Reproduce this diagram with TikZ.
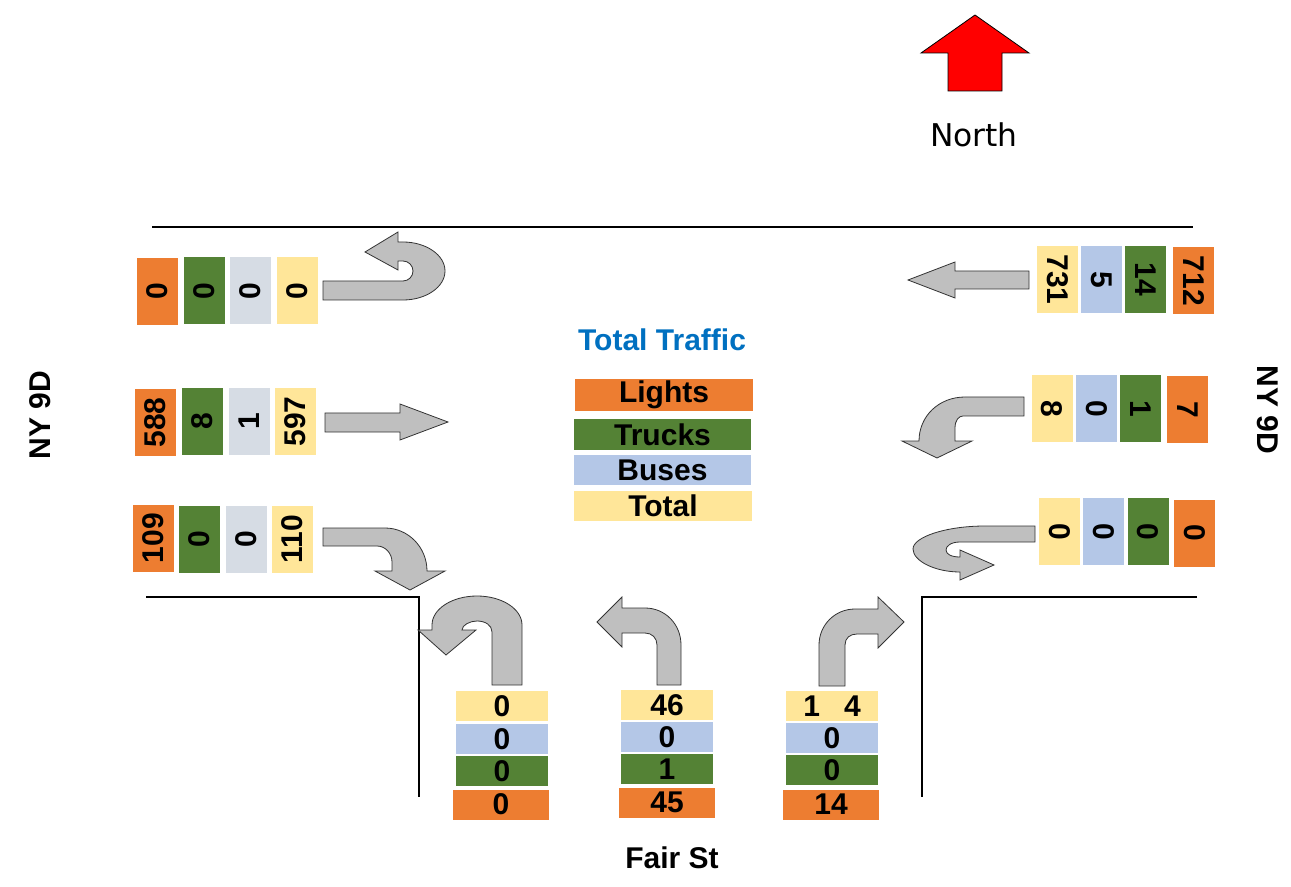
\documentclass[tikz,border=0pt]{standalone}
\usepackage{fontspec}
\setmainfont{Liberation Sans}
\newfontfamily\northfont{DejaVu Sans}
\usepackage{tikz}
\definecolor{lightsC}{HTML}{ED7D31}
\definecolor{trucksC}{HTML}{548235}
\definecolor{busesC}{HTML}{B4C7E7}
\definecolor{busesW}{HTML}{D6DCE4}
\definecolor{totalC}{HTML}{FFE699}
\definecolor{arrowC}{HTML}{BFBFBF}
\definecolor{titleC}{HTML}{0070C0}
\tikzset{
cell/.style = {inner sep=0pt, align=center, font=\fontsize{22.5}{26}\selectfont\bfseries},
cell_v/.style = {cell, minimum width=50.25pt, minimum height=30.75pt},% rotated count box
cell_h/.style = {cell, minimum width=69pt, minimum height=22.5pt},% approach count box
cell_l/.style = {cell, minimum width=133pt, minimum height=23pt},% legend box
turn/.style = {fill=arrowC, draw=black!80, line width=0.6pt, line join=miter},% grey block arrow
road/.style = {draw=black, line width=1.5pt},
lbl/.style = {font=\fontsize{22.5}{26}\selectfont\bfseries}
}
\begin{document}
\begin{tikzpicture}[x=0.75pt, y=-0.75pt]
\useasboundingbox (0,0) rectangle (1291,887);

% north arrow
\draw[fill=red, draw=black, line width=0.6pt] (975,15) -- (1029,53) -- (1002,53) -- (1002,91) -- (948,91) -- (948,53) -- (921,53) -- cycle;
\node[font=\northfont\fontsize{23.5}{27}\selectfont] (north) at (974,135) {North};

% roads
\draw[road] (152,227) -- (1193,227);
\draw[road] (146,597) -- (419,597) -- (419,797);
\draw[road] (1197,597) -- (922,597) -- (922,797);

% street names
\node[lbl, rotate=90] (ny_w) at (40,415) {NY 9D};
\node[lbl, rotate=-90] (ny_e) at (1268,410) {NY 9D};
\node[lbl] (fair) at (672,858) {Fair St};

% legend
\node[lbl, text=titleC] (title) at (662,340) {Total Traffic};
\node[cell_l, fill=lightsC, minimum height=24pt] (lg_l) at (664,395) {Lights};
\node[cell_l, fill=trucksC] (lg_t) at (662.5,434.5) {Trucks};
\node[cell_l, fill=busesC, minimum height=22.5pt] (lg_b) at (662.5,470) {Buses};
\node[cell_l, fill=totalC, minimum height=22.5pt] (lg_s) at (663,506) {Total};

% west approach
\node[cell_v, rotate=90, fill=lightsC] (w1l) at (157.5,291.5) {0};
\node[cell_v, rotate=90, fill=trucksC] (w1t) at (204.5,291) {0};
\node[cell_v, rotate=90, fill=busesW] (w1b) at (250.5,291) {0};
\node[cell_v, rotate=90, fill=totalC] (w1s) at (297,291) {0};
\node[cell_v, rotate=90, fill=lightsC] (w2l) at (155.5,422.5) {588};
\node[cell_v, rotate=90, fill=trucksC] (w2t) at (202.5,421.5) {8};
\node[cell_v, rotate=90, fill=busesW] (w2b) at (249.5,421.5) {1};
\node[cell_v, rotate=90, fill=totalC] (w2s) at (295,421.5) {597};
\node[cell_v, rotate=90, fill=lightsC] (w3l) at (153.5,538) {109};
\node[cell_v, rotate=90, fill=trucksC] (w3t) at (199.5,539) {0};
\node[cell_v, rotate=90, fill=busesW] (w3b) at (246.5,539) {0};
\node[cell_v, rotate=90, fill=totalC] (w3s) at (292.5,539) {110};

\draw[turn] (323,281) -- (403,281) .. controls (408.5,281) and (413,276.5) .. (413,271)
  .. controls (413,265.5) and (408.5,261) .. (403,261) -- (398,261) -- (398,270) -- (365,252)
  -- (398,232) -- (398,242) -- (403,242) .. controls (426,242) and (445,255) .. (445,271)
  .. controls (445,287) and (426,300) .. (403,300) -- (323,300) -- cycle;
\draw[turn] (325,413) -- (400,413) -- (400,404) -- (448,422) -- (400,440) -- (400,432) -- (325,432) -- cycle;
\draw[turn] (323,528) -- (385,528) .. controls (408,528) and (427,547) .. (427,571) -- (445,571)
  -- (410,590) -- (375,571) -- (392,571) -- (392,562) .. controls (392,553) and (385,546) .. (377,546)
  -- (323,546) -- cycle;

% east approach
\node[cell_v, rotate=-90, fill=totalC] (e1s) at (1057.5,279.5) {731};
\node[cell_v, rotate=-90, fill=busesC] (e1b) at (1101.5,279.5) {5};
\node[cell_v, rotate=-90, fill=trucksC] (e1t) at (1145.5,279.5) {14};
\node[cell_v, rotate=-90, fill=lightsC] (e1l) at (1193.5,281) {712};
\node[cell_v, rotate=-90, fill=totalC] (e2s) at (1052,408.5) {8};
\node[cell_v, rotate=-90, fill=busesC] (e2b) at (1096.5,408.5) {0};
\node[cell_v, rotate=-90, fill=trucksC] (e2t) at (1140.5,408.5) {1};
\node[cell_v, rotate=-90, fill=lightsC] (e2l) at (1187.5,409.5) {7};
\node[cell_v, rotate=-90, fill=totalC] (e3s) at (1059.5,531.5) {0};
\node[cell_v, rotate=-90, fill=busesC] (e3b) at (1103.5,531.5) {0};
\node[cell_v, rotate=-90, fill=trucksC] (e3t) at (1148,531.5) {0};
\node[cell_v, rotate=-90, fill=lightsC] (e3l) at (1194.5,533) {0};

\draw[turn] (1029,271) -- (955,271) -- (955,262) -- (908,280) -- (955,298) -- (955,289) -- (1029,289) -- cycle;
\draw[turn] (1024,397) -- (965,397) .. controls (939,397) and (919,416) .. (919,441) -- (902,441)
  -- (937,458) -- (972,441) -- (955,441) -- (955,428) .. controls (955,420) and (959,416) .. (963,416)
  -- (1024,416) -- cycle;
\draw[turn] (1035,526) -- (985,526) .. controls (946,526) and (913,537) .. (913,549)
  .. controls (913,561) and (935,572) .. (960,572) -- (960,580) -- (994,565) -- (960,550) -- (960,557)
  .. controls (951,557) and (946,554) .. (946,550) .. controls (946,546) and (951,542) .. (960,542)
  -- (1035,542) -- cycle;

% south approach
\node[cell_h, fill=totalC] (s1s) at (502,706) {0};
\node[cell_h, fill=busesC] (s1b) at (502,739) {0};
\node[cell_h, fill=trucksC] (s1t) at (502,771) {0};
\node[cell_h, fill=lightsC, minimum width=72pt] (s1l) at (501,804.5) {0};
\node[cell_h, fill=totalC] (s2s) at (667,705) {46};
\node[cell_h, fill=busesC] (s2b) at (667,737) {0};
\node[cell_h, fill=trucksC] (s2t) at (667,769) {1};
\node[cell_h, fill=lightsC, minimum width=72pt] (s2l) at (667,802.5) {45};
\node[cell_h, fill=totalC] (s3s) at (832,706) {1\hspace{0.8em}4};
\node[cell_h, fill=busesC] (s3b) at (832,738) {0};
\node[cell_h, fill=trucksC] (s3t) at (832,770) {0};
\node[cell_h, fill=lightsC, minimum width=72pt] (s3l) at (831,804.5) {14};

\draw[turn] (522,685) -- (522,625) .. controls (522,609) and (502,596) .. (477,596)
  .. controls (452,596) and (432,609) .. (432,625) -- (432,630) -- (418,630) -- (446,655) -- (476,630)
  -- (462,630) .. controls (462,625) and (470,621) .. (477,621) .. controls (485,621) and (492,625) .. (492,632)
  -- (492,685) -- cycle;
\draw[turn] (681,685) -- (681,645) .. controls (681,624) and (665,608) .. (645,608) -- (622,608)
  -- (622,597) -- (597,622) -- (622,647) -- (622,633) -- (645,633) .. controls (652,633) and (657,638) .. (657,645)
  -- (657,685) -- cycle;
\draw[turn] (819,686) -- (819,645) .. controls (819,625) and (835,609) .. (855,609) -- (878,609)
  -- (878,597) -- (904,622) -- (878,648) -- (878,634) -- (857,634) .. controls (850,634) and (845,638) .. (845,645)
  -- (845,686) -- cycle;
\end{tikzpicture}
\end{document}
